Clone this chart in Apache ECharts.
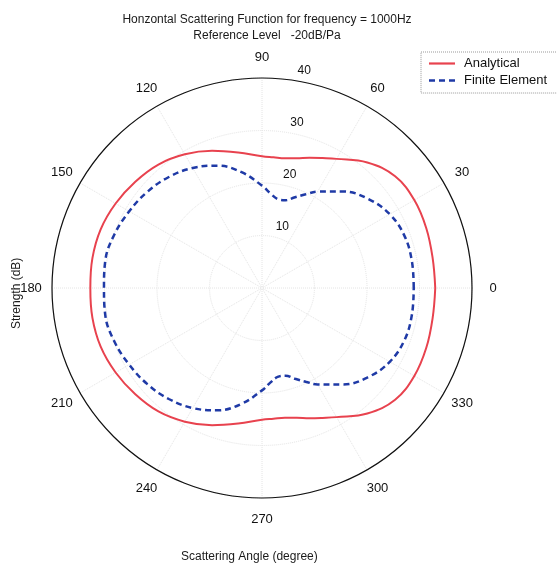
<!DOCTYPE html>
<html>
<head>
<meta charset="utf-8">
<script src="https://cdn.jsdelivr.net/npm/echarts@6/dist/echarts.min.js"></script>
<style>
html,body{margin:0;padding:0;background:#fff;}
#main{width:557px;height:573px;}
</style>
</head>
<body>
<div id="main"></div>
<script>
// Scattering angle (degrees)
const angles = [0,10,20,30,40,50,60,65,70,75,80,85,90,100,110,120,130,140,150,160,170,180,
  190,200,210,220,230,240,250,260,270,275,280,285,290,295,300,310,320,330,340,350,360];
// Strength (dB) - Analytical
const analytical = [33.0,33.0,33.3,33.5,33.1,31.2,28.4,27.3,26.4,25.6,25.1,25.0,25.1,26.2,27.8,29.4,30.7,31.5,32.2,32.7,32.8,32.7,
  32.8,32.7,32.2,31.5,30.7,29.4,27.8,26.2,25.1,25.0,25.1,25.6,26.4,27.3,28.4,31.2,33.1,33.5,33.3,33.0,33.0];
// Strength (dB) - Finite Element
const finiteElement = [28.9,29.0,28.9,28.1,26.4,24.0,21.2,19.7,18.4,17.3,17.2,18.1,19.5,22.4,24.8,26.4,27.6,28.5,29.2,29.9,30.3,30.1,
  30.3,29.9,29.2,28.5,27.6,26.4,24.8,22.4,19.5,18.1,17.2,17.3,18.4,19.7,21.2,24.0,26.4,28.1,28.9,29.0,28.9];
// Tick labels
const angleTicks = [0,30,60,90,120,150,180,210,240,270,300,330];
const radiusTicks = [10,20,30,40];

const FONT = 'Liberation Sans, Arial, sans-serif';
const RED = '#e8424e', BLUE = '#1f3aa6';
const chart = echarts.init(document.getElementById('main'), null, {renderer:'canvas'});

const labelRadius = 44;   // angle labels at 1.1 * rmax (MATLAB style)
const rLabelAngle = 82;   // radial labels along 82 degrees
const clear = 'rgba(0,0,0,0)';

chart.setOption({
  animation: false,
  backgroundColor: '#fff',
  title: {
    text: 'Honzontal Scattering Function for frequency = 1000Hz\nReference Level   -20dB/Pa',
    left: 262, top: 7, textAlign: 'center',
    textStyle: {fontFamily: FONT, fontSize: 12, fontWeight: 'normal', color: '#1a1a1a', lineHeight: 16}
  },
  legend: {
    orient: 'vertical',
    left: 421, top: 52,
    itemWidth: 26, itemHeight: 10, itemGap: 4,
    padding: [5, 12, 6, 8],
    borderColor: '#999', borderWidth: 1, borderType: 'dotted',
    textStyle: {fontFamily: FONT, fontSize: 13, color: '#111', padding: [0, 0, 0, 4]},
    data: [
      {name: 'Analytical', icon: 'path://M0,4 L26,4 L26,6.2 L0,6.2 Z', itemStyle: {color: RED}},
      {name: 'Finite Element', icon: 'path://M0,4 L6,4 L6,6.5 L0,6.5 Z M10,4 L16,4 L16,6.5 L10,6.5 Z M20,4 L26,4 L26,6.5 L20,6.5 Z', itemStyle: {color: BLUE}}
    ]
  },
  polar: {center: [262, 288], radius: 210},
  angleAxis: {
    type: 'value', min: 0, max: 360, interval: 30,
    startAngle: 0, clockwise: false,
    axisLine: {show: true, lineStyle: {color: '#111', width: 1.2}},
    axisTick: {show: false},
    axisLabel: {show: false},
    splitLine: {show: true, lineStyle: {color: '#e4e4e4', type: 'dotted', width: 1}}
  },
  radiusAxis: {
    type: 'value', min: 0, max: 40, interval: 10,
    axisLine: {show: false}, axisTick: {show: false}, axisLabel: {show: false},
    splitLine: {show: true, lineStyle: {color: '#e4e4e4', type: 'dotted', width: 1}}
  },
  graphic: [
    {type: 'text', left: 181, top: 551,
      style: {text: 'Scattering Angle (degree)', font: '12px ' + FONT, fill: '#1a1a1a'}},
    {type: 'text', x: 17, y: 329, rotation: Math.PI / 2, z: 10,
      style: {text: 'Strength (dB)', font: '12px ' + FONT, fill: '#1a1a1a', textVerticalAlign: 'middle'}}
  ],
  series: [
    {
      name: 'Analytical', type: 'line', coordinateSystem: 'polar',
      data: angles.map((a, i) => [analytical[i], a]),
      showSymbol: false, symbol: 'none', smooth: 0.4,
      lineStyle: {color: RED, width: 2},
      itemStyle: {color: RED}, z: 3
    },
    {
      name: 'Finite Element', type: 'line', coordinateSystem: 'polar',
      data: angles.map((a, i) => [finiteElement[i], a]),
      showSymbol: false, symbol: 'none', smooth: 0.4,
      lineStyle: {color: BLUE, width: 2.5, type: [6, 4]},
      itemStyle: {color: BLUE}, z: 4
    },
    {
      name: 'angleLabels', type: 'scatter', coordinateSystem: 'polar', clip: false,
      data: angleTicks.map(t => ({value: [labelRadius, t], name: String(t)})),
      symbolSize: 2, itemStyle: {color: clear, opacity: 1}, silent: true, z: 5,
      label: {show: true, position: 'inside', formatter: p => p.name,
        fontFamily: FONT, fontSize: 13, color: '#111'}
    },
    {
      name: 'radiusLabels', type: 'scatter', coordinateSystem: 'polar', clip: false,
      data: radiusTicks.map(t => ({value: [t + 0.5, rLabelAngle], name: String(t)})),
      symbolSize: 2, itemStyle: {color: clear, opacity: 1}, silent: true, z: 5,
      label: {show: true, position: [7, 0], align: 'left', verticalAlign: 'bottom',
        formatter: p => p.name, fontFamily: FONT, fontSize: 12, color: '#111'}
    }
  ]
});
</script>
</body>
</html>
